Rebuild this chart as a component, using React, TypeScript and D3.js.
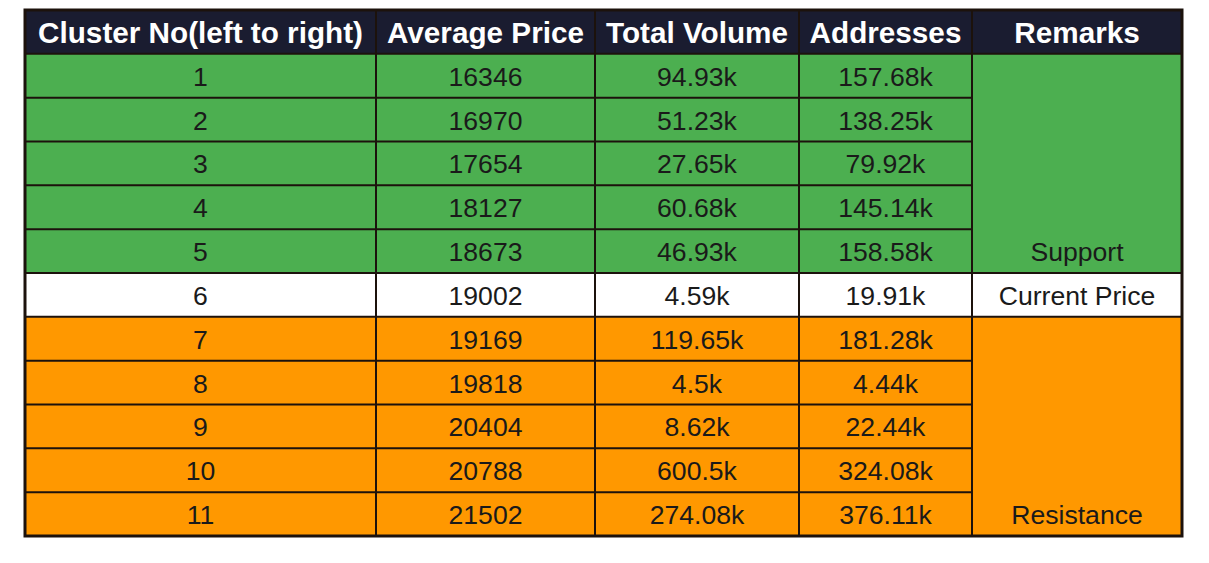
import React from "react";
import * as d3 from "d3";

const headers = ["Cluster No(left to right)", "Average Price", "Total Volume", "Addresses", "Remarks"];
const clusters = ["1", "2", "3", "4", "5", "6", "7", "8", "9", "10", "11"];
const avgPrice = ["16346", "16970", "17654", "18127", "18673", "19002", "19169", "19818", "20404", "20788", "21502"];
const totalVolume = ["94.93k", "51.23k", "27.65k", "60.68k", "46.93k", "4.59k", "119.65k", "4.5k", "8.62k", "600.5k", "274.08k"];
const addresses = ["157.68k", "138.25k", "79.92k", "145.14k", "158.58k", "19.91k", "181.28k", "4.44k", "22.44k", "324.08k", "376.11k"];
const groups = ["support", "support", "support", "support", "support", "current", "resistance", "resistance", "resistance", "resistance", "resistance"];
const remarkGroups = [
  { key: "support", label: "Support", start: 0, end: 4 },
  { key: "current", label: "Current Price", start: 5, end: 5 },
  { key: "resistance", label: "Resistance", start: 6, end: 10 },
];

const W = 1209;
const H = 563;
const LEFT = 25;
const RIGHT = 1182;
const TOP = 10;
const BOTTOM = 536;
const colEdges = [LEFT, 376, 595, 799, 972, RIGHT];

const fillColor: Record<string, string> = {
  support: "#4caf50",
  current: "#ffffff",
  resistance: "#ff9800",
};
const HEADER_BG = "#1a1c30";
const BORDER = "#1c120c";
const TEXT = "#1a1a1a";
const FONT = "'Liberation Sans', Arial, sans-serif";

export default function App() {
  const rowKeys = ["header", ...clusters];
  const y = d3.scaleBand<string>().domain(rowKeys).range([TOP, BOTTOM]).padding(0);
  const bw = y.bandwidth();
  const dataCols = [clusters, avgPrice, totalVolume, addresses];

  return (
    <svg width={W} height={H} style={{ display: "block", position: "absolute", left: 0, top: 0, background: "#fff" }}>
      <rect x={LEFT} y={y("header")} width={RIGHT - LEFT} height={bw} fill={HEADER_BG} />
      {headers.map((h, i) => (
        <text
          key={h}
          x={(colEdges[i] + colEdges[i + 1]) / 2}
          y={(y("header") as number) + bw / 2 + 1}
          textAnchor="middle"
          dominantBaseline="central"
          fill="#ffffff"
          fontFamily={FONT}
          fontWeight="bold"
          fontSize={29.7}
        >
          {h}
        </text>
      ))}
      {clusters.map((c, r) => (
        <rect
          key={"f" + c}
          x={LEFT}
          y={y(c)}
          width={colEdges[4] - LEFT}
          height={bw}
          fill={fillColor[groups[r]]}
        />
      ))}
      {remarkGroups.map((g) => {
        const y0 = y(clusters[g.start]) as number;
        const y1 = (y(clusters[g.end]) as number) + bw;
        return (
          <rect key={"rg" + g.key} x={colEdges[4]} y={y0} width={RIGHT - colEdges[4]} height={y1 - y0} fill={fillColor[g.key]} />
        );
      })}
      {clusters.map((c) => {
        const yy = y(c) as number;
        return <line key={"h" + c} x1={LEFT} x2={colEdges[4]} y1={yy} y2={yy} stroke={BORDER} strokeWidth={2} />;
      })}
      {remarkGroups.map((g) => {
        const y0 = y(clusters[g.start]) as number;
        return <line key={"rl" + g.key} x1={colEdges[4]} x2={RIGHT} y1={y0} y2={y0} stroke={BORDER} strokeWidth={2} />;
      })}
      {colEdges.slice(1, -1).map((cx) => (
        <line key={"v" + cx} x1={cx} x2={cx} y1={TOP} y2={BOTTOM} stroke={BORDER} strokeWidth={2} />
      ))}
      <rect x={LEFT} y={TOP} width={RIGHT - LEFT} height={BOTTOM - TOP} fill="none" stroke={BORDER} strokeWidth={3} />
      {dataCols.map((col, ci) =>
        col.map((v, r) => (
          <text
            key={ci + "-" + r}
            x={(colEdges[ci] + colEdges[ci + 1]) / 2}
            y={(y(clusters[r]) as number) + bw / 2 + 1}
            textAnchor="middle"
            dominantBaseline="central"
            fill={TEXT}
            fontFamily={FONT}
            fontSize={26.6}
          >
            {v}
          </text>
        ))
      )}
      {remarkGroups.map((g) => (
        <text
          key={"rt" + g.key}
          x={(colEdges[4] + colEdges[5]) / 2}
          y={(y(clusters[g.end]) as number) + bw / 2 + 1}
          textAnchor="middle"
          dominantBaseline="central"
          fill={TEXT}
          fontFamily={FONT}
          fontSize={26.6}
        >
          {g.label}
        </text>
      ))}
    </svg>
  );
}
